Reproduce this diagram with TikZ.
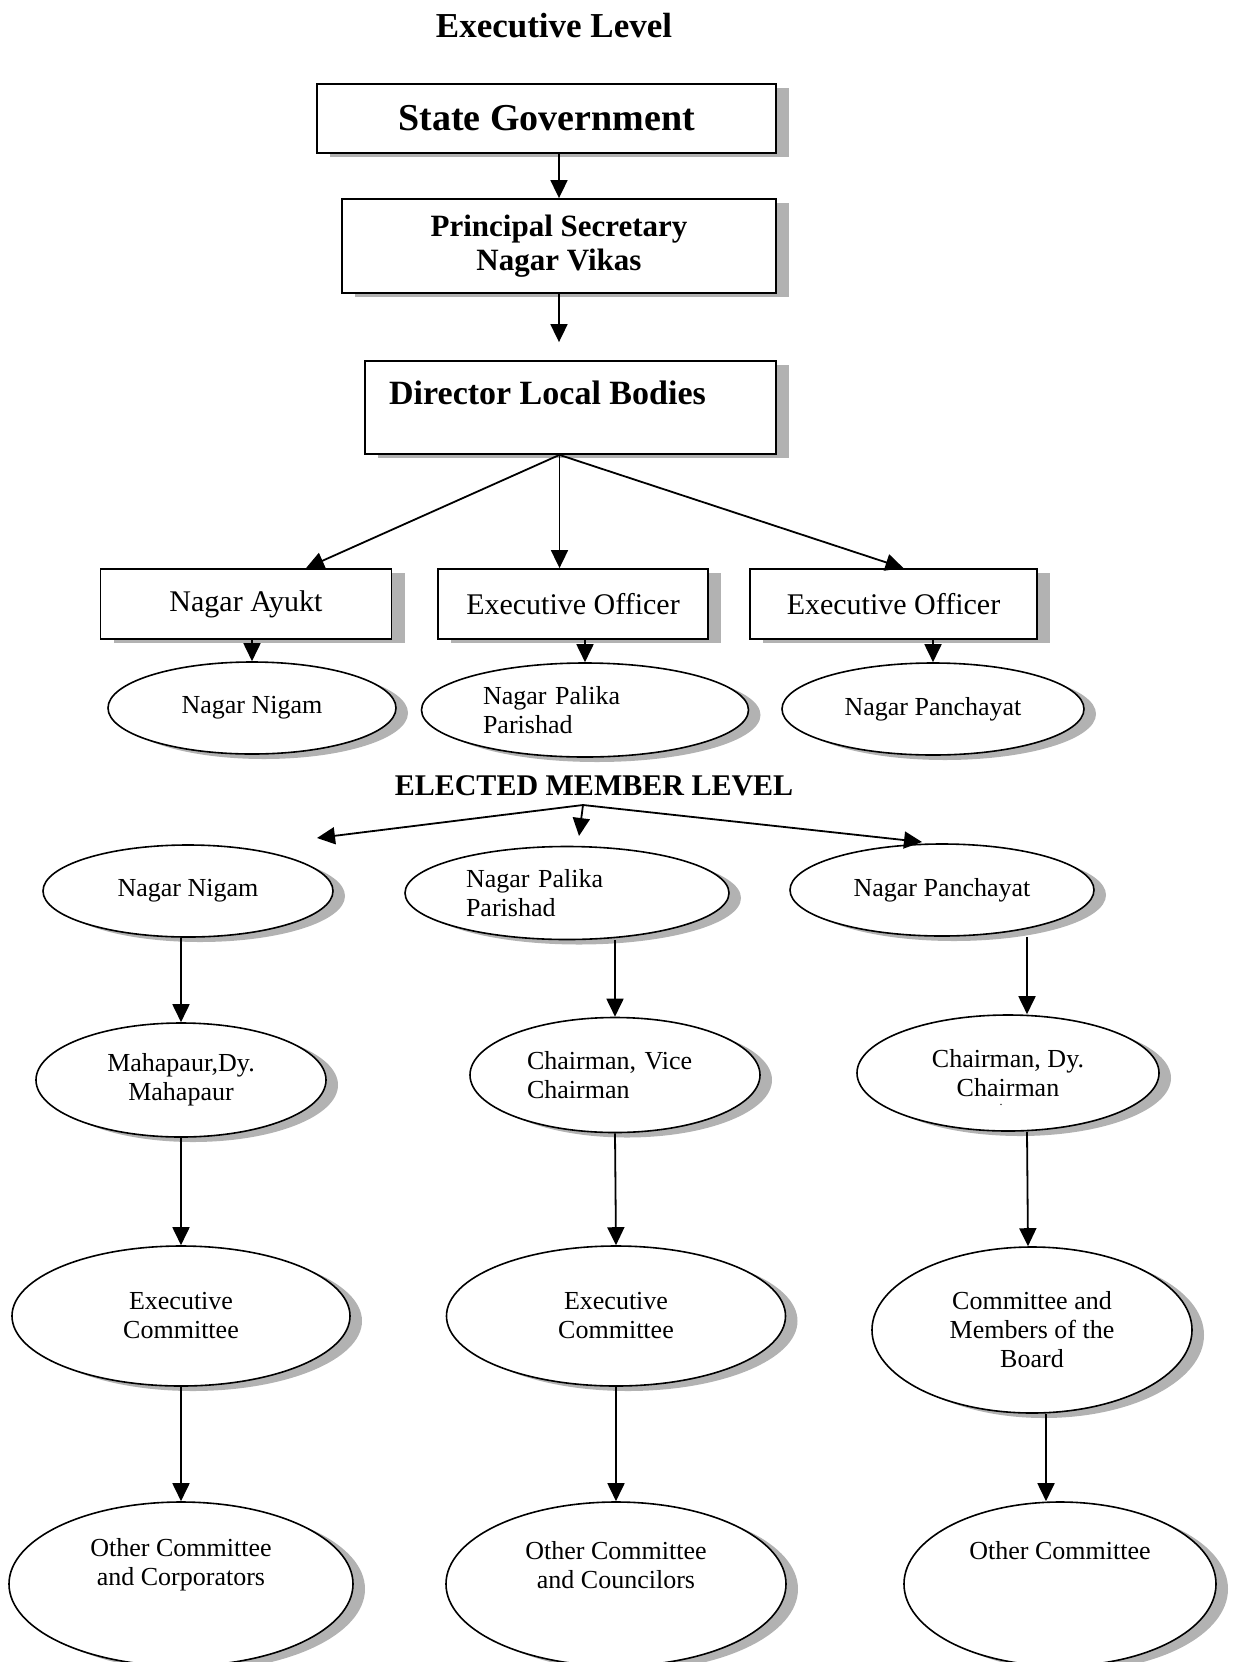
\documentclass[tikz,border=0pt]{standalone}
\usepackage{fontspec}
\setmainfont{Liberation Serif}
\usepackage{tikz}
\usetikzlibrary{shapes.geometric, shadows, arrows.meta}
\frenchspacing

\begin{document}
\begin{tikzpicture}[x=1pt, y=-1pt,
        box/.style={draw, line width=1.8pt, fill=white, inner sep=0pt, align=center,
            drop shadow={shadow xshift=13pt, shadow yshift=-4pt, fill=gray!60, opacity=1}},
        officer/.style={box, minimum height=70pt, font=\fontsize{30}{34}\selectfont},
        oval/.style={ellipse, draw, line width=1.6pt, fill=white, inner sep=0pt, align=center,
            font=\fontsize{26}{29}\selectfont,
            drop shadow={shadow xshift=12pt, shadow yshift=-5pt, fill=gray!60, opacity=1}},
        txt/.style={font=\fontsize{26}{29}\selectfont, align=center},
        arr/.style={line width=1.8pt, -{Triangle[length=18pt, width=17pt]}}]
    \useasboundingbox (0,0) rectangle (1234,1662);

    \node[font=\fontsize{35}{40}\selectfont\bfseries] (exlevel) at (554,26) {Executive Level};
    \node[box, minimum width=459pt, minimum height=69pt, font=\fontsize{38}{42}\selectfont\bfseries] (sg) at (546.5,118.5) {State Government};
    \node[box, minimum width=434pt, minimum height=94pt, font=\fontsize{31}{34}\selectfont\bfseries] (ps) at (559,246) {Principal Secretary\\Nagar Vikas};
    \node[box, minimum width=411pt, minimum height=93pt,
        label={[font=\fontsize{34}{38}\selectfont\bfseries, xshift=-23pt, yshift=15pt]center:Director Local Bodies}] (dlb) at (570.5,407.5) {};

    \node[officer, minimum width=291pt] (ayukt) at (246,604) {Nagar Ayukt};
    \node[officer, minimum width=270pt] (eo1) at (573,604) {Executive Officer};
    \node[officer, minimum width=287pt] (eo2) at (893.5,604) {Executive Officer};

    \node[oval, minimum width=288pt, minimum height=92pt] (nn1) at (252,708) {Nagar Nigam};
    \node[oval, minimum width=327pt, minimum height=94pt, text width=204pt, align=left] (npp1) at (585,710) {Nagar Palika\\Parishad};
    \node[oval, minimum width=302pt, minimum height=92pt] (np1) at (933,709) {Nagar Panchayat};

    \node[font=\fontsize{30}{34}\selectfont\bfseries] (elected) at (594,786) {ELECTED MEMBER LEVEL};
    \coordinate (split) at (583,805);
    \coordinate (eml) at (317,838);
    \coordinate (emm) at (579,836);
    \coordinate (emr) at (922,842);

    \node[oval, minimum width=290pt, minimum height=92pt] (nn2) at (188,891) {Nagar Nigam};
    \node[oval, minimum width=324pt, minimum height=93pt, text width=202pt, align=left] (npp2) at (567,893) {Nagar Palika\\Parishad};
    \node[oval, minimum width=304pt, minimum height=92pt] (np2) at (942,890) {Nagar Panchayat};

    \node[oval, minimum width=290pt, minimum height=114pt] (mah) at (181,1080) {Mahapaur,Dy.\\Mahapaur};
    \node[oval, minimum width=290pt, minimum height=115pt, text width=176pt, align=left] (ch2) at (615,1075) {Chairman, Vice\\Chairman};
    \node[oval, minimum width=302pt, minimum height=116pt,
        label={[font=\fontsize{12}{12}\selectfont, inner sep=0pt, xshift=-7pt, yshift=-32pt]center:.}] (ch3) at (1008,1073) {Chairman, Dy.\\Chairman};

    \node[oval, minimum width=338pt, minimum height=140pt] (ec1) at (181,1316) {Executive\\Committee};
    \node[oval, minimum width=339pt, minimum height=140pt] (ec2) at (616,1316) {Executive\\Committee};
    \node[oval, minimum width=320pt, minimum height=166pt] (cmb) at (1032,1330) {Committee and\\Members of the\\Board};

    \node[oval, minimum width=344pt, minimum height=164pt,
        label={[txt, yshift=19pt]center:Other Committee\\and Corporators}] (oc1) at (181,1584) {};
    \node[oval, minimum width=340pt, minimum height=164pt,
        label={[txt, yshift=19pt]center:Other Committee\\and Councilors}] (oc2) at (616,1584) {};
    \node[oval, minimum width=312pt, minimum height=164pt,
        label={[txt, yshift=33pt]center:Other Committee}] (oc3) at (1060,1584) {};

    \draw[arr] (ps.north |- sg.south) -- (ps.north);
    \draw[arr, shorten >=18pt] (ps.south) -- (ps.south |- dlb.north);
    \coordinate (fork) at ([xshift=-11pt]dlb.south);
    \draw[arr] (fork) -- ([xshift=60pt]ayukt.north);
    \draw[arr] (fork) -- (fork |- eo1.north);
    \draw[arr] (fork) -- ([xshift=10pt]eo2.north);
    \draw[arr] (nn1.north |- ayukt.south) -- (nn1.north);
    \draw[arr] (npp1.north |- eo1.south) -- (npp1.north);
    \draw[arr] (np1.north |- eo2.south) -- (np1.north);

    \draw[arr] (split) -- (eml);
    \draw[arr] (split) -- (emm);
    \draw[arr] (split) -- (emr);

    \draw[arr] (mah.north |- nn2.south) -- (mah.north);
    \draw[arr] (mah.south) -- (ec1.north);
    \draw[arr] (ec1.south) -- (oc1.north);
    \draw[arr] (ch2.north |- npp2.south) -- (ch2.north);
    \draw[arr] (ch2.south) -- (ec2.north);
    \draw[arr] (ec2.south) -- (oc2.north);
    \draw[arr] ([xshift=85pt]np2.south) -- ([xshift=19pt]ch3.north);
    \draw[arr] ([xshift=19pt]ch3.south) -- ([xshift=-4pt]cmb.north);
    \draw[arr] ([xshift=14pt]cmb.south) -- ([xshift=-14pt]oc3.north);
\end{tikzpicture}
\end{document}
